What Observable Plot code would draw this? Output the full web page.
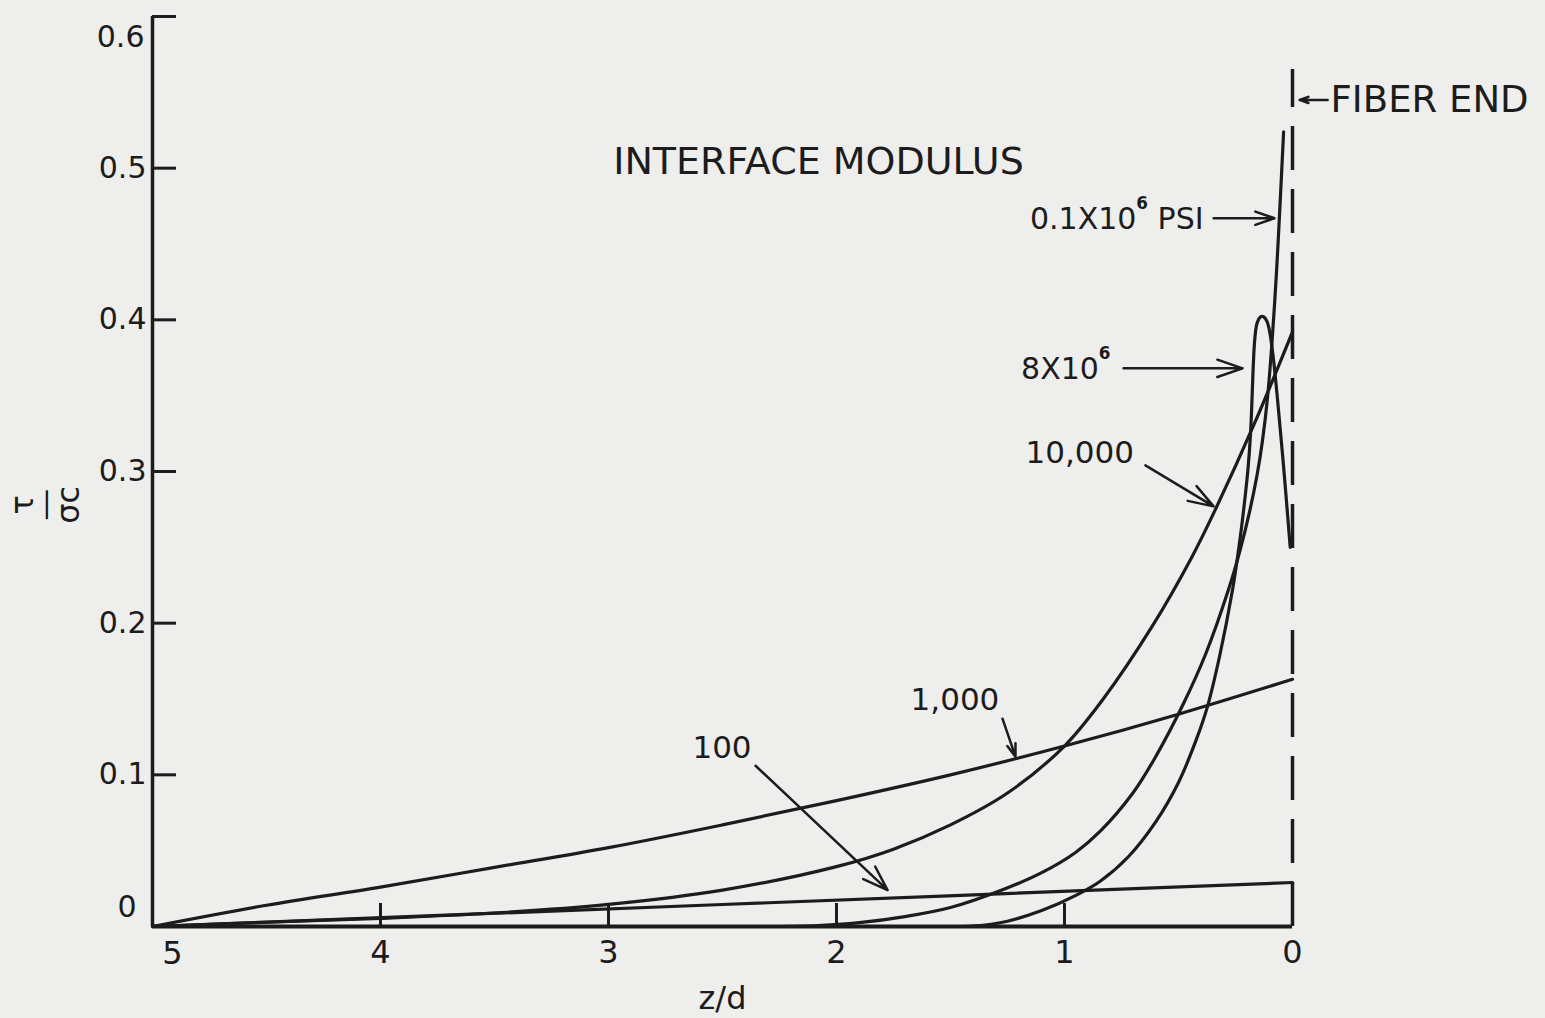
<!DOCTYPE html>
<html><head><meta charset="utf-8">
<script src="https://cdn.jsdelivr.net/npm/d3@7"></script>
<script src="https://cdn.jsdelivr.net/npm/@observablehq/plot@0.6"></script>
<style>
html,body{margin:0;padding:0;background:#eeeeec;}
#chart svg{display:block;}
</style></head><body><div id="chart"></div>
<script>
// Axis ticks
const xTicks = [5, 4, 3, 2, 1, 0];
const xInnerTicks = [4, 3, 2, 1];
const yTicks = [0, 0.1, 0.2, 0.3, 0.4, 0.5, 0.6];

// Series (z/d, tau/sigma_c)
const z100 = [5, 2.5, 0];
const tau100 = [0, 0.0145, 0.029];

const z1000 = [5, 4.5, 4, 3.5, 3, 2.5, 2, 1.5, 1, 0.5, 0];
const tau1000 = [0, 0.014, 0.026, 0.039, 0.052, 0.067, 0.083, 0.100, 0.119, 0.140, 0.163];

const z10000 = [5, 4.5, 4, 3.5, 3, 2.5, 2, 1.75, 1.5, 1.25, 1, 0.835, 0.615, 0.44, 0.338, 0.163, 0];
const tau10000 = [0, 0.0028, 0.0054, 0.0089, 0.0146, 0.024, 0.0395, 0.051, 0.067, 0.088, 0.119, 0.149, 0.198, 0.244, 0.275, 0.333, 0.392];

const z01e6 = [2.3, 2.1, 1.9, 1.7, 1.5, 1.28, 1.1, 0.95, 0.842, 0.7, 0.6, 0.478, 0.38, 0.281, 0.23, 0.189, 0.155, 0.132, 0.11, 0.09, 0.07, 0.055, 0.039];
const tau01e6 = [0, 0.0005, 0.0025, 0.0065, 0.0125, 0.0237, 0.0355, 0.049, 0.063, 0.088, 0.112, 0.147, 0.18, 0.222, 0.248, 0.273, 0.298, 0.32, 0.348, 0.385, 0.432, 0.475, 0.524];

const z8e6 = [1.45, 1.35, 1.25, 1.1, 0.95, 0.842, 0.72, 0.6, 0.5, 0.42, 0.373, 0.32, 0.263, 0.235, 0.211, 0.195, 0.184, 0.177, 0.172, 0.165, 0.155, 0.14, 0.127, 0.112, 0.1, 0.085, 0.066, 0.039, 0.01];
const tau8e6 = [0, 0.001, 0.0035, 0.0105, 0.0205, 0.030, 0.046, 0.069, 0.095, 0.124, 0.145, 0.178, 0.222, 0.25, 0.279, 0.302, 0.325, 0.35, 0.37, 0.388, 0.398, 0.402, 0.402, 0.399, 0.392, 0.376, 0.348, 0.303, 0.25];

const seriesNames = ["100", "1,000", "10,000", "0.1X10^6", "8X10^6"];
const seriesZ = [z100, z1000, z10000, z01e6, z8e6];
const seriesTau = [tau100, tau1000, tau10000, tau01e6, tau8e6];

// Annotations (data coordinates)
const labelText = ["INTERFACE MODULUS", "FIBER END", "0.1X10⁶ PSI", "8X10⁶", "10,000", "1,000", "100"];
const labelZ = [2.079, -0.167, 0.39, 0.798, 1.171, 1.675, 2.632];
const labelTau = [0.504, 0.545, 0.466, 0.367, 0.312, 0.149, 0.1175];
const labelAnchor = ["middle", "start", "end", "end", "start", "start", "start"];
const labelSize = [38, 37, 30, 30, 31, 31, 31];

const arrowZ1 = [-0.154, 0.346, 0.741, 0.645, 1.272, 2.355];
const arrowTau1 = [0.545, 0.467, 0.368, 0.304, 0.137, 0.106];
const arrowZ2 = [-0.031, 0.079, 0.219, 0.346, 1.215, 1.776];
const arrowTau2 = [0.545, 0.467, 0.368, 0.277, 0.112, 0.024];

const fiberEndZ = 0;
const fiberEndTop = 0.565;

const xLabel = "z/d";
const yLabel = "τ\n—\nσc";

// Build tables
const rows = seriesNames.flatMap((name, i) =>
  seriesZ[i].map((z, j) => ({series: name, z, tau: seriesTau[i][j]})));
const labelRows = labelText.map((t, i) => ({t, z: labelZ[i], tau: labelTau[i], a: labelAnchor[i], s: labelSize[i]}));
const arrowRows = arrowZ1.map((z1, i) => ({z1, t1: arrowTau1[i], z2: arrowZ2[i], t2: arrowTau2[i]}));

const ink = "#1c1c1c";
const font = "'DejaVu Sans', 'Liberation Sans', sans-serif";

const chart = Plot.plot({
  width: 1545,
  height: 1018,
  marginLeft: 152,
  marginRight: 253,
  marginTop: 16,
  marginBottom: 92,
  x: {domain: [5, 0]},
  y: {domain: [0, 0.6]},
  style: {background: "#eeeeec", fontFamily: font, color: ink},
  marks: [
    // axis lines
    Plot.ruleX([5], {stroke: ink, strokeWidth: 3.5}),
    Plot.ruleY([0], {stroke: ink, strokeWidth: 4}),
    // inward ticks and labels
    Plot.axisY(yTicks.filter(d => d > 0), {anchor: "left", tickSize: -24, tickPadding: 30, strokeWidth: 3,
      tickFormat: d => d === 0.6 ? "" : d.toFixed(1), fontSize: 30, label: null}),
    Plot.axisX(xInnerTicks, {anchor: "bottom", tickSize: -23, tickPadding: 0, strokeWidth: 3,
      tickFormat: () => "", label: null}),
    Plot.axisX(xTicks, {anchor: "bottom", tickSize: 0, tickPadding: 14, fontSize: 32,
      tickFormat: d => d === 5 ? "" : String(d), label: null}),
    Plot.text([5], {x: d => d, y: 0, text: d => String(d), dx: 20, dy: 27, fontSize: 32}),
    Plot.text([0], {x: 5, y: d => d, text: d => String(d), dx: -16, dy: -19, textAnchor: "end", fontSize: 30}),
    Plot.text([0.6], {x: 5, y: d => d, text: d => d.toFixed(1), dx: -8, dy: 21, textAnchor: "end", fontSize: 30}),
    // fiber end dashed line
    Plot.ruleX([fiberEndZ], {y1: 0, y2: fiberEndTop, stroke: ink, strokeWidth: 3.5, strokeDasharray: "44,19"}),
    // curves
    Plot.line(rows, {x: "z", y: "tau", z: "series", curve: "catmull-rom", stroke: ink, strokeWidth: 3.2}),
    // arrows
    Plot.arrow(arrowRows, {x1: "z1", y1: "t1", x2: "z2", y2: "t2", stroke: ink, strokeWidth: 2.5, headLength: 16, headAngle: 38}),
    // labels
    ...["start", "middle", "end"].map(a =>
      Plot.text(labelRows.filter(d => d.a === a), {x: "z", y: "tau", text: "t", fontSize: d => d.s, textAnchor: a})),
    // axis titles
    Plot.text([xLabel], {x: 2.5, y: 0, text: d => d, dy: 72, fontSize: 32}),
    Plot.text([yLabel], {x: 5, y: 0.278, text: d => d, dx: -104, rotate: -90, fontSize: 32, lineHeight: 0.72})
  ]
});
document.getElementById("chart").appendChild(chart);

// Render the "⁶" in labels as a raised, smaller superscript 6
chart.querySelectorAll("text").forEach(t => {
  if (t.children.length || !t.textContent.includes("⁶")) return;
  const fs = parseFloat(getComputedStyle(t).fontSize) || 30;
  const [a, b] = t.textContent.split("⁶");
  t.textContent = "";
  const ns = "http://www.w3.org/2000/svg";
  const t1 = document.createElementNS(ns, "tspan"); t1.textContent = a; t.appendChild(t1);
  const t2 = document.createElementNS(ns, "tspan"); t2.textContent = "6";
  t2.setAttribute("dy", String(-0.68 * fs)); t2.setAttribute("font-size", String(0.56 * fs)); t2.setAttribute("font-weight", "bold");
  t.appendChild(t2);
  const t3 = document.createElementNS(ns, "tspan"); t3.textContent = b || "";
  t3.setAttribute("dy", String(0.68 * fs)); t.appendChild(t3);
});
</script>
</body></html>
